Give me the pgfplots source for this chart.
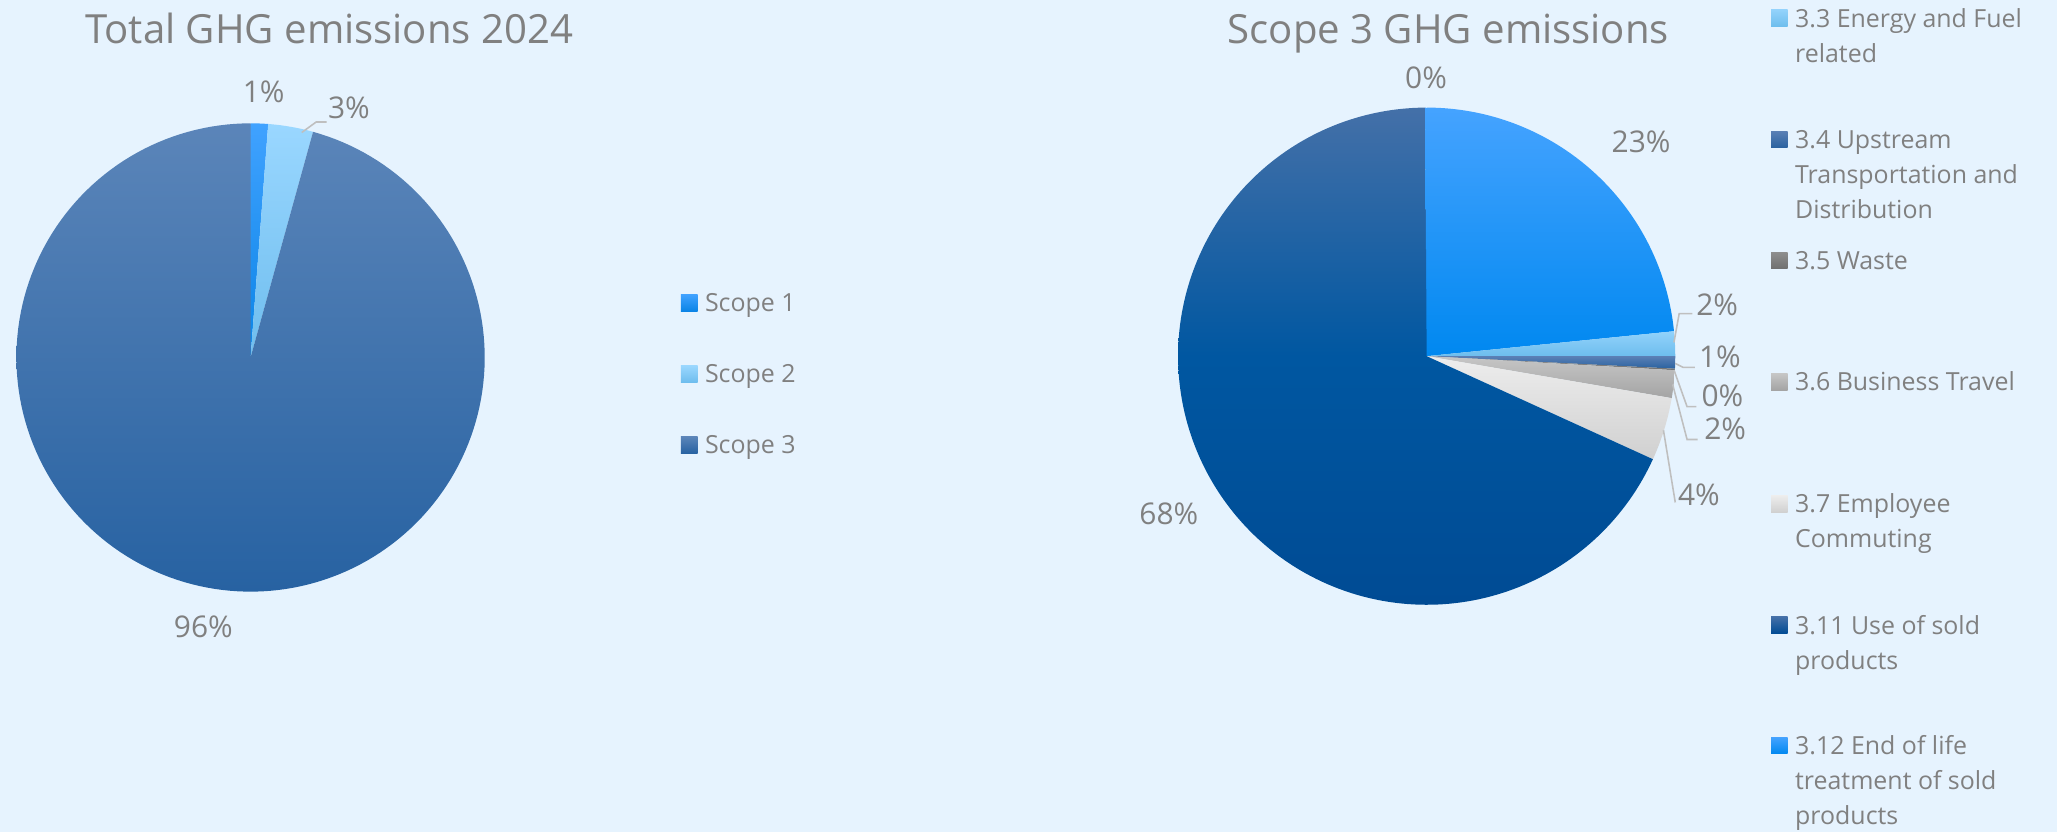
\documentclass[border=0pt]{standalone}
\usepackage{pgfplots}
\pgfplotsset{compat=1.18}
\usepackage{fontspec}
\setmainfont{Open Sans}
\definecolor{bg}{HTML}{E6F3FE}
\definecolor{txt}{HTML}{808080}
\definecolor{lead}{HTML}{BFBFBF}
\definecolor{s1t}{HTML}{40A2FF}\definecolor{s1b}{HTML}{0A84E6}
\definecolor{s2t}{HTML}{9AD7FF}\definecolor{s2b}{HTML}{6EBDEE}
\definecolor{s3t}{HTML}{5B85B9}\definecolor{s3b}{HTML}{2762A2}
\definecolor{r1t}{HTML}{45A3FF}\definecolor{r1b}{HTML}{0088F0}
\definecolor{r3t}{HTML}{92D2FB}\definecolor{r3b}{HTML}{6DBDED}
\definecolor{r4t}{HTML}{5A80B5}\definecolor{r4b}{HTML}{2A62A0}
\definecolor{r5t}{HTML}{8E8E8E}\definecolor{r5b}{HTML}{707070}
\definecolor{r6t}{HTML}{C6C6C6}\definecolor{r6b}{HTML}{A4A4A4}
\definecolor{r7t}{HTML}{EDEDED}\definecolor{r7b}{HTML}{D0D0D0}
\definecolor{r11t}{HTML}{4470A8}\definecolor{r11m}{HTML}{0057A1}\definecolor{r11b}{HTML}{004B94}
\newcommand{\ttl}{\fontsize{15.3}{18}\selectfont}
\newcommand{\lbl}{\fontsize{11.4}{13}\selectfont}
\newcommand{\leg}{\fontsize{9.5}{13.45}\selectfont}
% slice: cx, cy, r, start %, end %, style
\newcommand{\pieslice}[6]{%
  \pgfmathsetmacro\tA{90-3.6*#4}%
  \pgfmathsetmacro\tB{90-3.6*#5}%
  \addplot[draw=none, #6, domain=\tB:\tA, samples=180, variable=\t]
    ({#1+#3*cos(\t)}, {#2-#3*sin(\t)}) -- (axis cs:#1,#2) -- cycle;
}
\newcommand{\swatch}[4]{% x, baseline y, top color, bottom color
  \path[top color=#3, bottom color=#4] (axis cs:#1,#2-0.5) rectangle (axis cs:#1+12.7,#2-13.2);
}
\newcommand{\legline}[2]{% baseline y, text
  \node[anchor=base west, inner sep=0pt, text=txt, font=\leg] at (axis cs:1368,#1) {#2};
}
\begin{document}
\begin{tikzpicture}
\begin{axis}[
  scale only axis, width=784pt, height=317pt,
  xmin=0, xmax=1568, ymin=0, ymax=634, y dir=reverse,
  hide axis, clip=false, set layers,
]
\begin{pgfonlayer}{axis background}
\fill[bg] (rel axis cs:0,0) rectangle (rel axis cs:1,1);
\end{pgfonlayer}
\coordinate (SW) at (rel axis cs:0,0);
\coordinate (NE) at (rel axis cs:1,1);
% ---------- left pie: Total GHG emissions 2024 (%)
\pieslice{191}{272.5}{178.5}{0}{1.2}{top color=s1t, bottom color=s1b}
\pieslice{191}{272.5}{178.5}{1.2}{4.3}{top color=s2t, bottom color=s2b}
\pieslice{191}{272.5}{178.5}{4.3}{100}{top color=s3t, bottom color=s3b}
% ---------- right pie: Scope 3 (%)
\pieslice{1087.5}{271.5}{189.5}{0}{23.4}{top color=r1t, bottom color=r1b}
\pieslice{1087.5}{271.5}{189.5}{23.4}{25.0}{top color=r3t, bottom color=r3b}
\pieslice{1087.5}{271.5}{189.5}{25.0}{25.8}{top color=r4t, bottom color=r4b}
\pieslice{1087.5}{271.5}{189.5}{25.8}{25.9}{top color=r5t, bottom color=r5b}
\pieslice{1087.5}{271.5}{189.5}{25.9}{27.7}{top color=r6t, bottom color=r6b}
\pieslice{1087.5}{271.5}{189.5}{27.7}{31.8}{top color=r7t, bottom color=r7b}
\pieslice{1087.5}{271.5}{189.5}{31.8}{99.9}{top color=r11t, bottom color=r11b, middle color=r11m}
\pieslice{1087.5}{271.5}{189.5}{99.9}{100}{top color=r1t, bottom color=r1b}
% ---------- titles
\node[anchor=base, text=txt, font=\ttl] at (axis cs:251,33) {Total GHG emissions 2024};
\node[anchor=base, text=txt, font=\ttl] at (axis cs:1104,33) {Scope 3 GHG emissions};
% ---------- left labels
\node[text=txt, font=\lbl] at (axis cs:201,70) {1\%};
\node[text=txt, font=\lbl] at (axis cs:266,82) {3\%};
\node[text=txt, font=\lbl] at (axis cs:155,478) {96\%};
\draw[lead, line width=0.6pt] (axis cs:230,101) -- (axis cs:241,93) -- (axis cs:249,93);
% ---------- right labels
\node[text=txt, font=\lbl] at (axis cs:1087,59) {0\%};
\node[text=txt, font=\lbl] at (axis cs:1251,108) {23\%};
\node[text=txt, font=\lbl] at (axis cs:1309,232) {2\%};
\node[text=txt, font=\lbl] at (axis cs:1311,272) {1\%};
\node[text=txt, font=\lbl] at (axis cs:1313,302) {0\%};
\node[text=txt, font=\lbl] at (axis cs:1315,327) {2\%};
\node[text=txt, font=\lbl] at (axis cs:1295,377) {4\%};
\node[text=txt, font=\lbl] at (axis cs:891,392) {68\%};
\draw[lead, line width=0.6pt] (axis cs:1276,261) -- (axis cs:1280,239) -- (axis cs:1290,239);
\draw[lead, line width=0.6pt] (axis cs:1277,277) -- (axis cs:1283,280) -- (axis cs:1292,280);
\draw[lead, line width=0.6pt] (axis cs:1276,282) -- (axis cs:1286,310) -- (axis cs:1293,310);
\draw[lead, line width=0.6pt] (axis cs:1275,293) -- (axis cs:1286,335) -- (axis cs:1294,335);
\draw[lead, line width=0.6pt] (axis cs:1268,328) -- (axis cs:1277,383);
% ---------- left legend
\swatch{519}{237.7}{s1t}{s1b}
\swatch{519}{291.8}{s2t}{s2b}
\swatch{519}{346}{s3t}{s3b}
\node[anchor=base west, inner sep=0pt, text=txt, font=\leg] at (axis cs:537,237.7) {Scope 1};
\node[anchor=base west, inner sep=0pt, text=txt, font=\leg] at (axis cs:537,291.8) {Scope 2};
\node[anchor=base west, inner sep=0pt, text=txt, font=\leg] at (axis cs:537,346) {Scope 3};
% ---------- right legend
\swatch{1350}{20.8}{r3t}{r3b}
\swatch{1350}{113.1}{r4t}{r4b}
\swatch{1350}{205.3}{r5t}{r5b}
\swatch{1350}{297.8}{r6t}{r6b}
\swatch{1350}{390.8}{r7t}{r7b}
\swatch{1350}{483.3}{r11t}{r11b}
\swatch{1350}{575}{r1t}{r1b}
\legline{20.8}{3.3 Energy and Fuel}
\legline{47.7}{related}
\legline{113.1}{3.4 Upstream}
\legline{140.0}{Transportation and}
\legline{166.9}{Distribution}
\legline{205.3}{3.5 Waste}
\legline{297.8}{3.6 Business Travel}
\legline{390.8}{3.7 Employee}
\legline{417.7}{Commuting}
\legline{483.3}{3.11 Use of sold}
\legline{510.2}{products}
\legline{575}{3.12 End of life}
\legline{601.9}{treatment of sold}
\legline{628.8}{products}
\end{axis}
\pgfresetboundingbox
\useasboundingbox (SW) rectangle (NE);
\end{tikzpicture}
\end{document}
